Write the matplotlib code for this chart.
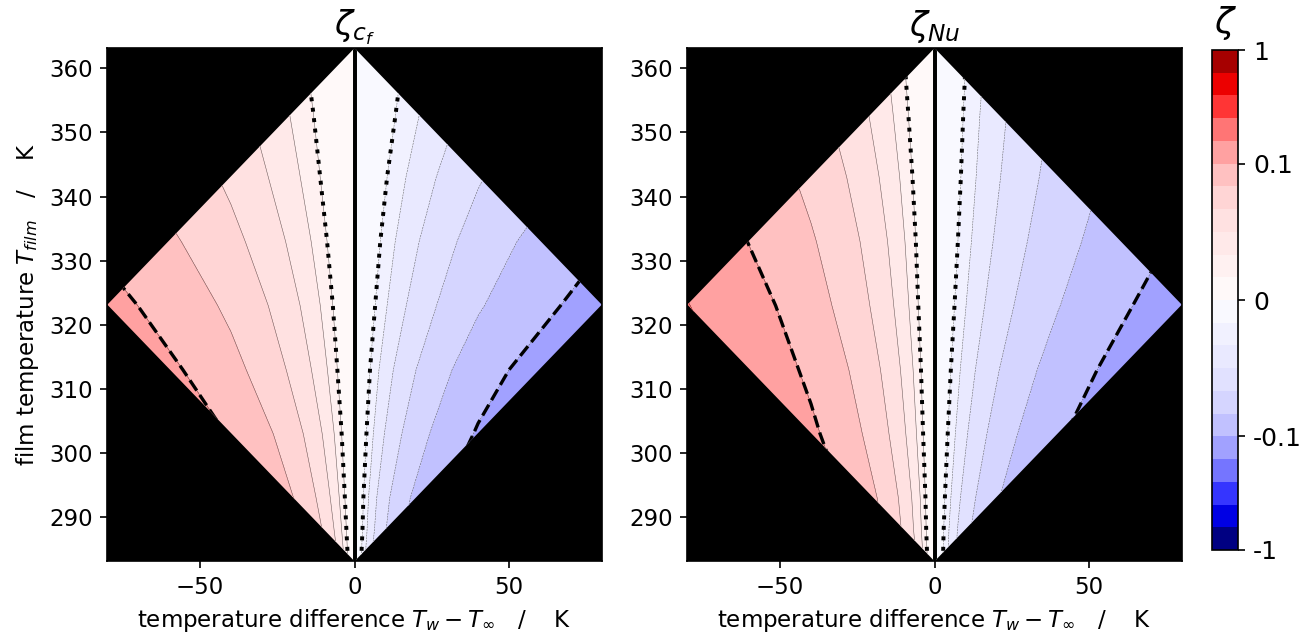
import matplotlib
matplotlib.use("Agg")
import matplotlib.pyplot as plt
import numpy as np
from matplotlib.colors import FuncNorm
from matplotlib.patches import Polygon

# grid: temperature difference (K) x film temperature (K)
dT = [-80, -40, 0, 40, 80]
T_film = [283.15, 288, 293, 303, 313, 323, 333, 343, 353, 363.15]

zeta_cf = [
    [0.376, 0.188, 0.0, -0.188, -0.376],
    [0.304, 0.152, 0.0, -0.156, -0.312],
    [0.256, 0.128, 0.0, -0.140, -0.280],
    [0.192, 0.096, 0.0, -0.104, -0.208],
    [0.144, 0.072, 0.0, -0.080, -0.160],
    [0.114, 0.057, 0.0, -0.060, -0.120],
    [0.090, 0.045, 0.0, -0.048, -0.096],
    [0.073, 0.036, 0.0, -0.038, -0.075],
    [0.061, 0.030, 0.0, -0.030, -0.060],
    [0.050, 0.025, 0.0, -0.025, -0.050],
]

zeta_nu = [
    [0.344, 0.172, 0.0, -0.148, -0.296],
    [0.296, 0.148, 0.0, -0.136, -0.272],
    [0.272, 0.136, 0.0, -0.120, -0.240],
    [0.216, 0.108, 0.0, -0.094, -0.187],
    [0.182, 0.091, 0.0, -0.076, -0.152],
    [0.160, 0.076, 0.0, -0.062, -0.125],
    [0.132, 0.066, 0.0, -0.053, -0.106],
    [0.112, 0.056, 0.0, -0.047, -0.094],
    [0.094, 0.047, 0.0, -0.043, -0.086],
    [0.080, 0.040, 0.0, -0.039, -0.078],
]

# range of the wall and free stream temperatures
T_min, T_max = 283.15, 363.15
dT_max = 80

levels_pos = [0.01, 0.0158, 0.0251, 0.0398, 0.0631, 0.1, 0.158, 0.251, 0.398, 0.631, 1.0]
levels = [-v for v in levels_pos[::-1]] + [0.0] + levels_pos

cbar_ticks = [-1, -0.1, 0, 0.1, 1]
cbar_labels = ["-1", "-0.1", "0", "0.1", "1"]
x_ticks = [-50, 0, 50]
y_ticks = [290, 300, 310, 320, 330, 340, 350, 360]


def plot_panel(ax, zeta, title, norm):
    X, Y = np.meshgrid(dT, T_film)
    Z = np.array(zeta)
    T_mid = 0.5 * (T_min + T_max)
    diamond = Polygon(
        [(0, T_min), (dT_max, T_mid), (0, T_max), (-dT_max, T_mid)],
        closed=True,
        transform=ax.transData,
    )
    ax.set_facecolor("black")
    cs = ax.contourf(X, Y, Z, levels=levels, cmap="seismic", norm=norm)
    thin = ax.contour(X, Y, Z, levels=levels, colors="k", linewidths=0.25, alpha=0.6)
    zero = ax.contour(X, Y, Z, levels=[0.0], colors="k", linewidths=1.9)
    dots = ax.contour(
        X, Y, Z, levels=[-0.01, 0.01], colors="k", linewidths=1.9, linestyles="dotted"
    )
    dash = ax.contour(
        X, Y, Z, levels=[-0.1, 0.1], colors="k", linewidths=1.6, linestyles="dashed"
    )
    for c in (cs, thin, zero, dots, dash):
        c.set_clip_path(diamond)
    ax.set_xlim(-dT_max, dT_max)
    ax.set_ylim(T_min, T_max)
    ax.set_xticks(x_ticks)
    ax.set_yticks(y_ticks)
    ax.set_title(title, fontsize=16)
    ax.set_xlabel(r"temperature difference $T_w - T_\infty$   /    K")
    return cs


def main():
    plt.rcParams["font.size"] = 11
    fig = plt.figure(figsize=(13.09 / 1.5, 6.34 / 1.5), dpi=150)
    ax1 = fig.add_axes([0.0820, 0.1147, 0.3777, 0.8095])
    ax2 = fig.add_axes([0.5251, 0.1147, 0.3777, 0.8095])
    cax = fig.add_axes([0.9257, 0.1325, 0.0203, 0.7886])

    norm = FuncNorm(
        (lambda x: np.sign(x) * np.abs(x) ** 0.83, lambda y: np.sign(y) * np.abs(y) ** (1 / 0.83)),
        vmin=-1,
        vmax=1,
    )

    cs = plot_panel(ax1, zeta_cf, r"$\zeta_{c_f}$", norm)
    plot_panel(ax2, zeta_nu, r"$\zeta_{Nu}$", norm)
    ax1.set_ylabel(r"film temperature $T_{film}$   /    K")

    cbar = fig.colorbar(cs, cax=cax)
    cbar.set_ticks(cbar_ticks)
    cbar.set_ticklabels(cbar_labels)
    cbar.ax.tick_params(labelsize=12)
    cax.set_title(r"$\zeta$", fontsize=17, pad=8)

    fig.savefig("out.png", dpi=150)


if __name__ == "__main__":
    main()
